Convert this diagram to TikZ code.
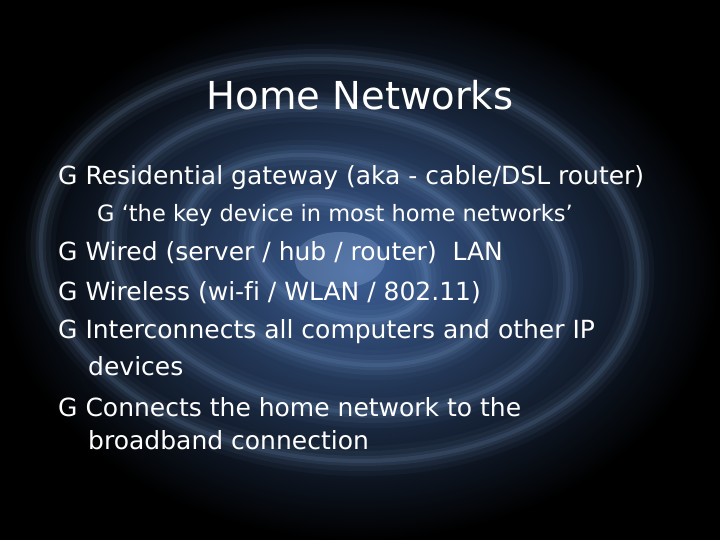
\documentclass[tikz,border=0pt]{standalone}
\usepackage{fontspec}
\setmainfont[Ligatures=NoCommon]{DejaVu Sans}
\definecolor{mid}{RGB}{60,95,150}
\definecolor{ring}{RGB}{150,190,240}
\definecolor{core}{RGB}{170,200,240}
\begin{document}
\begin{tikzpicture}[x=1pt,y=-1pt,
  bl/.style={anchor=west,text=white,font=\fontsize{25}{30}\selectfont,inner sep=0pt},
  sb/.style={anchor=west,text=white,font=\fontsize{22.5}{26}\selectfont,inner sep=0pt}]
\useasboundingbox (0,0) rectangle (720,540);
\fill[black] (0,0) rectangle (720,540);
\shade[inner color=mid,outer color=black] (0,0) rectangle (720,540);
\begin{scope}[draw=ring]
\foreach \w/\o in {30/0.04,20/0.06,10/0.08,4/0.1}{
\draw[line width=\w pt,opacity=\o,rotate around={-10:(340,260)}] (340,260) ellipse (230 and 150);
\draw[line width=\w pt,opacity=\o,rotate around={-15:(340,260)}] (340,260) ellipse (160 and 100);
\draw[line width=\w pt,opacity=\o,rotate around={-20:(340,260)}] (340,260) ellipse (90 and 55);
\draw[line width=\w pt,opacity=\o,rotate around={-5:(340,260)}] (340,260) ellipse (300 and 200);
}
\end{scope}
\fill[core,opacity=0.25] (340,260) ellipse (45 and 28);
\node[text=white,font=\fontsize{38.5}{44}\selectfont,inner sep=0pt] (title) at (360,95) {Home Networks};
\node[bl] (b1) at (58,178) {G Residential gateway (aka - cable/DSL router)};
\node[sb] (s1) at (97,215) {G ‘the key device in most home networks’};
\node[bl] (b2) at (58,253) {G Wired (server / hub / router)\ \ LAN};
\node[bl] (b3) at (58,293) {G Wireless (wi-fi / WLAN / 802.11)};
\node[bl] (b4) at (58,332) {G Interconnects all computers and other IP};
\node[bl] (b4b) at (88,366) {devices};
\node[bl] (b5) at (58,407) {G Connects the home network to the};
\node[bl] (b5b) at (88,440) {broadband connection};
\end{tikzpicture}
\end{document}
